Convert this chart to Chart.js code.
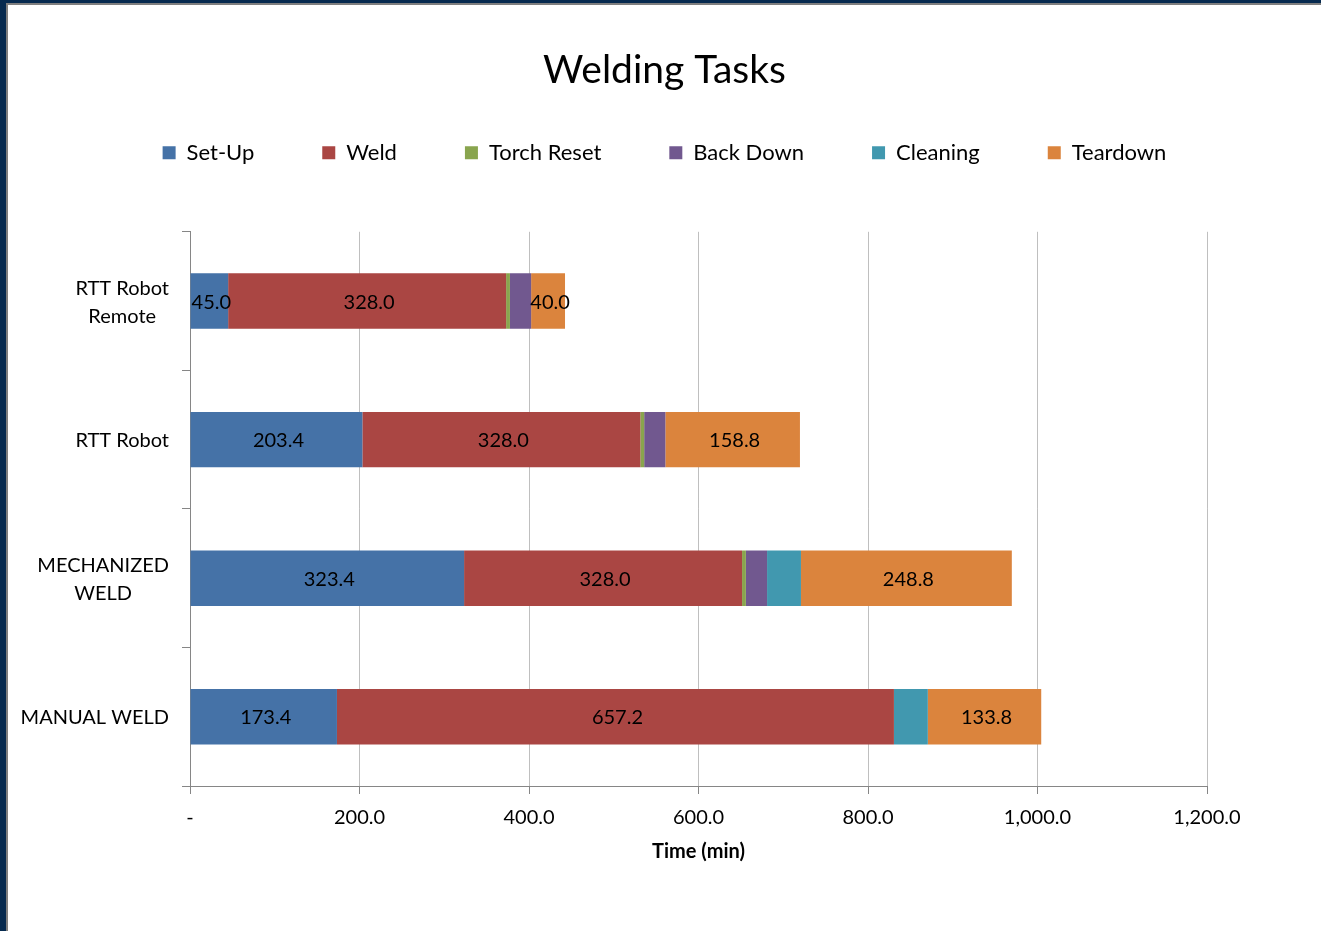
<!DOCTYPE html>
<html>
<head>
<meta charset="utf-8">
<title>Welding Tasks</title>
<script src="https://cdn.jsdelivr.net/npm/chart.js@4.4.1/dist/chart.umd.min.js"></script>
<style>
  html, body { margin: 0; padding: 0; background: #fff; }
  #frame { position: absolute; left: 0; top: 0; width: 1321px; height: 931px; background: #062a4f; overflow: hidden; }
  #edge { position: absolute; left: 6px; top: 3px; right: 0; bottom: 0; background: #7f7f7f; }
  #sheet { position: absolute; left: 2px; top: 2px; right: 0; bottom: 0; background: #fff; }
  #chart-wrap { position: absolute; left: 0; top: 0; width: 1313px; height: 926px; }
</style>
</head>
<body>
<div id="frame"><div id="edge"><div id="sheet">
  <div id="chart-wrap"><canvas id="welding-chart"></canvas></div>
</div></div></div>

<script>
// categories, top to bottom
const categories = [['RTT Robot', 'Remote'], 'RTT Robot', ['MECHANIZED', 'WELD'], 'MANUAL WELD'];

// minutes per task
const setUp = [45.0, 203.4, 323.4, 173.4];
const weld = [328.0, 328.0, 328.0, 657.2];
const torchReset = [4.5, 4.5, 4.5, 0];
const backDown = [25.0, 25.0, 25.0, 0];
const cleaning = [0, 0, 40.0, 40.0];
const teardown = [40.0, 158.8, 248.8, 133.8];

const seriesNames = ['Set-Up', 'Weld', 'Torch Reset', 'Back Down', 'Cleaning', 'Teardown'];
const seriesColors = ['#4572a7', '#aa4643', '#89a54e', '#71588f', '#4198af', '#db843d'];
const labeledSeries = ['Set-Up', 'Weld', 'Teardown'];

const xTickLabels = ['-', '200.0', '400.0', '600.0', '800.0', '1,000.0', '1,200.0'];

const FONT = 'Lato, "Open Sans", "DejaVu Sans", sans-serif';
const AXIS_GREY = '#868686';

const seriesValues = [setUp, weld, torchReset, backDown, cleaning, teardown];

// values written in the middle of the bars
const barValueLabels = {
    id: 'barValueLabels',
    afterDatasetsDraw(chart) {
        const ctx = chart.ctx;
        ctx.save();
        ctx.font = `20px ${FONT}`;
        ctx.fillStyle = '#000';
        ctx.textAlign = 'center';
        ctx.textBaseline = 'middle';
        chart.data.datasets.forEach((ds, i) => {
            if (!labeledSeries.includes(ds.label)) return;
            chart.getDatasetMeta(i).data.forEach((bar, j) => {
                const v = ds.data[j];
                if (!v) return;
                const { x, base, y } = bar.getProps(['x', 'base', 'y'], true);
                ctx.fillText(v.toFixed(1), (x + base) / 2 + 2, y + 1);
            });
        });
        ctx.restore();
    }
};

// category names: block right-aligned to the axis, lines centred inside the block
const categoryLabels = {
    id: 'categoryLabels',
    afterDraw(chart) {
        const ctx = chart.ctx;
        const yScale = chart.scales.y;
        const rightEdge = yScale.right - 21;
        const lineGap = 28;
        ctx.save();
        ctx.font = `20px ${FONT}`;
        ctx.fillStyle = '#000';
        ctx.textAlign = 'center';
        ctx.textBaseline = 'middle';
        categories.forEach((cat, i) => {
            const lines = Array.isArray(cat) ? cat : [cat];
            const maxW = Math.max(...lines.map(l => ctx.measureText(l).width));
            const cx = rightEdge - maxW / 2;
            const cy = yScale.getPixelForValue(i) + 1;
            lines.forEach((l, k) => {
                ctx.fillText(l, cx, cy + (k - (lines.length - 1) / 2) * lineGap);
            });
        });
        ctx.restore();
    }
};

const ctx = document.getElementById('welding-chart').getContext('2d');

new Chart(ctx, {
    type: 'bar',
    data: {
        labels: categories,
        datasets: seriesNames.map((name, i) => ({
            label: name,
            data: seriesValues[i],
            backgroundColor: seriesColors[i],
            borderWidth: 0,
            barPercentage: 0.4,
            categoryPercentage: 1.0
        }))
    },
    options: {
        indexAxis: 'y',
        responsive: true,
        maintainAspectRatio: false,
        animation: false,
        layout: { padding: { top: 0, left: 0, right: 0, bottom: 67 } },
        scales: {
            x: {
                stacked: true,
                min: 0,
                max: 1200,
                ticks: {
                    stepSize: 200,
                    color: '#000',
                    font: { family: FONT, size: 20 },
                    padding: 12,
                    maxRotation: 0,
                    callback: (value, index) => xTickLabels[index]
                },
                grid: { color: '#bfbfbf', tickColor: AXIS_GREY, tickLength: 8, lineWidth: 1 },
                border: { color: AXIS_GREY },
                title: {
                    display: true,
                    text: 'Time (min)',
                    color: '#000',
                    font: { family: FONT, size: 20, weight: 'bold' },
                    padding: 0
                },
                afterFit: scale => { scale.height = 78; }
            },
            y: {
                stacked: true,
                ticks: { display: false },
                grid: { drawOnChartArea: false, color: AXIS_GREY, tickLength: 8 },
                border: { color: AXIS_GREY },
                afterFit: scale => { scale.width = 182; }
            },
            // empty axis that only reserves the right margin
            y2: {
                position: 'right',
                display: true,
                ticks: { display: false },
                grid: { display: false },
                border: { display: false },
                afterFit: scale => { scale.width = 114; }
            }
        },
        plugins: {
            title: {
                display: true,
                text: 'Welding Tasks',
                color: '#000',
                font: { family: FONT, size: 39, weight: 'normal' },
                padding: { top: 42, bottom: -20 }
            },
            legend: {
                position: 'top',
                labels: {
                    color: '#000',
                    font: { family: FONT, size: 22 },
                    boxWidth: 13,
                    boxHeight: 13,
                    padding: 68
                }
            },
            // spacer between the legend and the plot
            subtitle: {
                display: true,
                text: ' ',
                weight: 500,
                font: { size: 10, lineHeight: 1 },
                padding: { top: 0, bottom: 48 }
            },
            tooltip: { enabled: false }
        }
    },
    plugins: [barValueLabels, categoryLabels]
});
</script>
</body>
</html>
